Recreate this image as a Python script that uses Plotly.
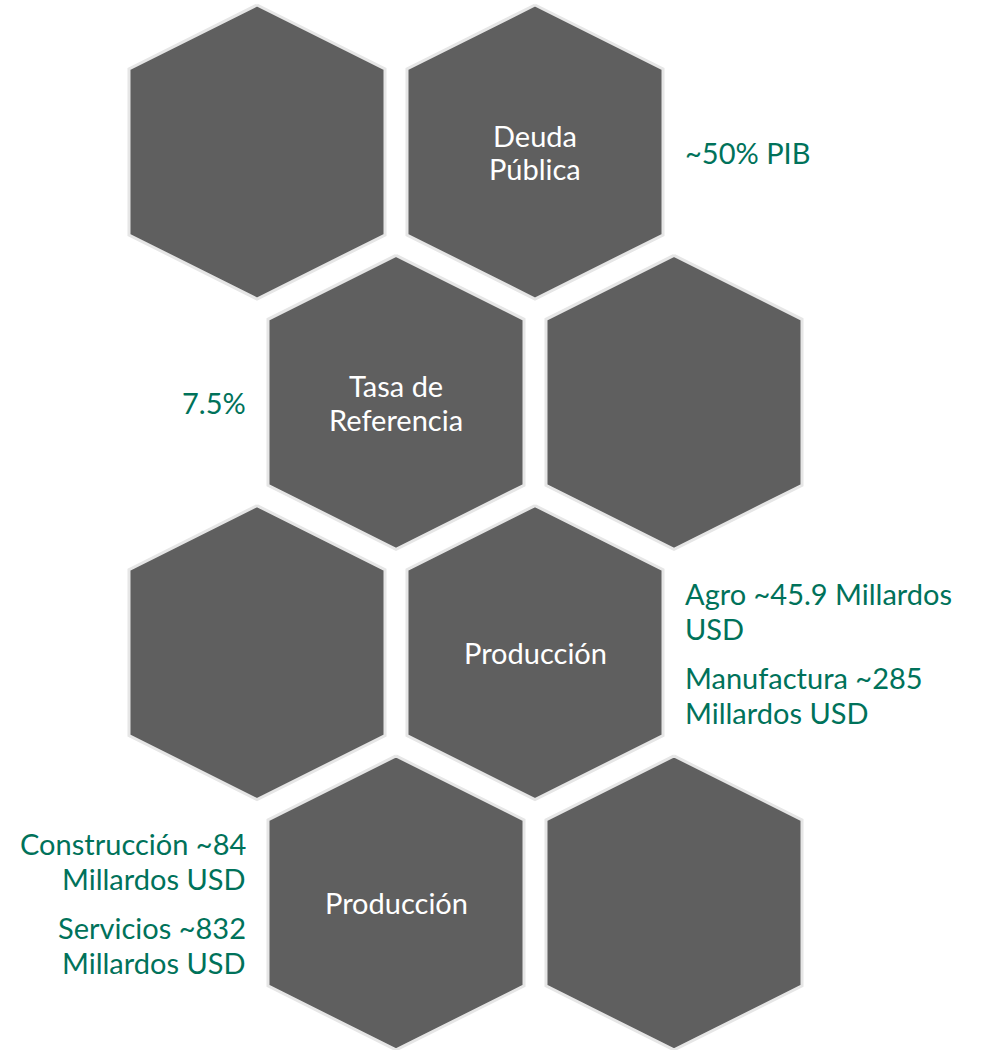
import plotly.graph_objects as go

# ---- data ----
hex_rows = [0, 0, 1, 1, 2, 2, 3, 3]
hex_cols = [0, 1, 0, 1, 0, 1, 0, 1]
hex_labels = ["", "Deuda<br>Pública",
              "Tasa de<br>Referencia", "",
              "", "Producción",
              "Producción", ""]

note_hex = [1, 2, 5, 6]
note_side = ["right", "left", "right", "left"]
note_paragraphs = [["~50% PIB"],
                   ["7.5%"],
                   ["Agro ~45.9 Millardos<br>USD", "Manufactura ~285<br>Millardos USD"],
                   ["Construcción ~84<br>Millardos USD", "Servicios ~832<br>Millardos USD"]]

# ---- layout geometry ----
W, H = 984, 1050
X0, DX = 257, 278
Y0, DY = 152, 250.3
HW, HH, SH = 128, 147, 83   # half width, half height, shoulder offset
FILL = "#5f5f5f"
EDGE = "#e6e6e6"
GREEN = "#00725a"
FONT = "Lato"
FS = 29
LINE = 35       # line spacing
PGAP = 49       # spacing between last line of a paragraph and next first line


def center(i):
    r, c = hex_rows[i], hex_cols[i]
    return X0 + DX * c + (DX / 2) * (r % 2), Y0 + DY * r


def block_offsets(paragraphs):
    lines, ys, y = [], [], 0.0
    for p_i, p in enumerate(paragraphs):
        for l_i, ln in enumerate(p.split("<br>")):
            if lines:
                y += LINE if l_i > 0 else PGAP
            lines.append(ln)
            ys.append(y)
    mid = (ys[0] + ys[-1]) / 2
    return lines, [v - mid for v in ys]


fig = go.Figure()
for i in range(len(hex_rows)):
    cx, cy = center(i)
    xs = [cx, cx + HW, cx + HW, cx, cx - HW, cx - HW, cx]
    ys = [cy - HH, cy - SH, cy + SH, cy + HH, cy + SH, cy - SH, cy - HH]
    fig.add_trace(go.Scatter(x=xs, y=ys, mode="lines", fill="toself",
                             fillcolor=FILL, line=dict(color=EDGE, width=3),
                             hoverinfo="skip", showlegend=False))
    if hex_labels[i]:
        lines, offs = block_offsets([hex_labels[i]])
        for ln, o in zip(lines, offs):
            fig.add_annotation(x=cx, y=cy + o * 0.96, text=ln, showarrow=False,
                               font=dict(family=FONT, size=FS, color="white"),
                               xanchor="center", yanchor="middle")

for k, paras in enumerate(note_paragraphs):
    cx, cy = center(note_hex[k])
    if note_side[k] == "right":
        x, xa = cx + HW + 20, "left"
    else:
        x, xa = cx - HW - 20, "right"
    lines, offs = block_offsets(paras)
    for ln, o in zip(lines, offs):
        fig.add_annotation(x=x, y=cy + o, text=ln, showarrow=False,
                           font=dict(family=FONT, size=FS, color=GREEN),
                           xanchor=xa, yanchor="middle")

fig.update_layout(width=W, height=H, margin=dict(l=0, r=0, t=0, b=0),
                  paper_bgcolor="white", plot_bgcolor="white",
                  xaxis=dict(range=[0, W], visible=False, fixedrange=True),
                  yaxis=dict(range=[H, 0], visible=False, fixedrange=True))
fig.write_html("out.html", config={"displayModeBar": False},
               post_script="document.body.style.margin='0';")
